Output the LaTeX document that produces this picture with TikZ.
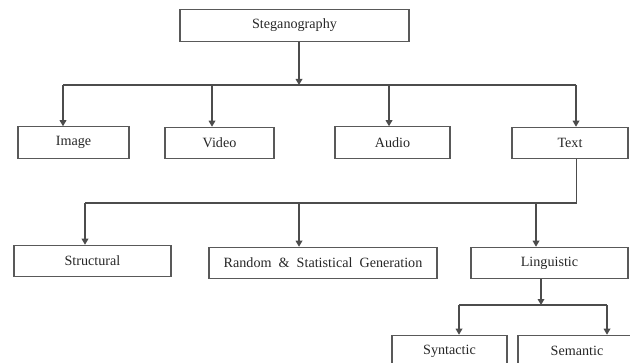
\documentclass[tikz,border=0pt]{standalone}
\usepackage{fontspec}
\setmainfont{Liberation Serif}
\usetikzlibrary{arrows.meta}
\tikzset{
	% Box and connector styles for the classification chart
	class box/.style={rectangle,draw=black!65,line width=0.9pt,inner sep=0pt,minimum height=23.5pt,text=black!85},
	link line/.style={draw=black!70,line width=0.9pt},
	arrow line/.style={link line,-{Triangle[length=4.5pt,width=5pt]}}
}

\begin{document}
\begin{tikzpicture}[x=0.75pt,y=-0.75pt,font=\fontsize{10.6}{12}\selectfont]
	% macro for dropping an arrow from a bar point onto a box
	\newcommand{\dropto}[2]{\draw[arrow line](#1)--(#1|-#2.north);}
	\useasboundingbox (0,0) rectangle (630,363);
	\clip (0,0) rectangle (630,363);
	
	% Boxes, level by level
	\node(0)[class box,minimum width=171.75pt] at (294.5,25.5){Steganography};
	
	\node(1)[class box,minimum width=83.25pt] at (73.5,142.5){Image};
	\node(2)[class box,minimum width=81.75pt] at (219.5,143){Video};
	\node(3)[class box,minimum width=86.25pt] at (392.5,142.5){Audio};
	\node(4)[class box,minimum width=87pt] at (570,143){Text};
	
	\node(4-1)[class box,minimum width=117.75pt] at (92.5,261){Structural};
	\node(4-2)[class box,minimum width=171pt] at (323,263){Random\ \ \&\ \ Statistical\ \ Generation};
	\node(4-3)[class box,minimum width=117.75pt] at (549.5,263){Linguistic};
	
	\node(4-3-1)[class box,minimum width=86.25pt] at (449.5,351){Syntactic};
	\node(4-3-2)[class box,minimum width=88.5pt] at (577,351){Semantic};
	
	% Points where the connectors meet the bars
	\coordinate(0-out) at (299,85);
	\coordinate(1-in) at (63,85);
	\coordinate(2-in) at (212,85);
	\coordinate(3-in) at (389,85);
	\coordinate(4-in) at (576,85);
	\coordinate(4-out) at (576.5,203);
	\coordinate(4-1-in) at (85,203);
	\coordinate(4-2-in) at (299,203);
	\coordinate(4-3-in) at (536,203);
	\coordinate(4-3-out) at (541,305);
	\coordinate(4-3-1-in) at (459,305);
	\coordinate(4-3-2-in) at (607,305);
	
	% Steganography to its four carriers
	\draw[arrow line](0.south -| 0-out)--(0-out);
	\draw[link line](1-in)--(4-in);
	\dropto{1-in}{1}
	\dropto{2-in}{2}
	\dropto{3-in}{3}
	\dropto{4-in}{4}
	
	% Text to its three kinds
	\draw[link line](4.south -| 4-out)--(4-out)--(4-1-in);
	\dropto{4-1-in}{4-1}
	\dropto{4-2-in}{4-2}
	\dropto{4-3-in}{4-3}
	
	% Linguistic to its two kinds
	\draw[arrow line](4-3.south -| 4-3-out)--(4-3-out);
	\draw[link line](4-3-1-in)--(4-3-2-in);
	\dropto{4-3-1-in}{4-3-1}
	\dropto{4-3-2-in}{4-3-2}
\end{tikzpicture}
\end{document}
